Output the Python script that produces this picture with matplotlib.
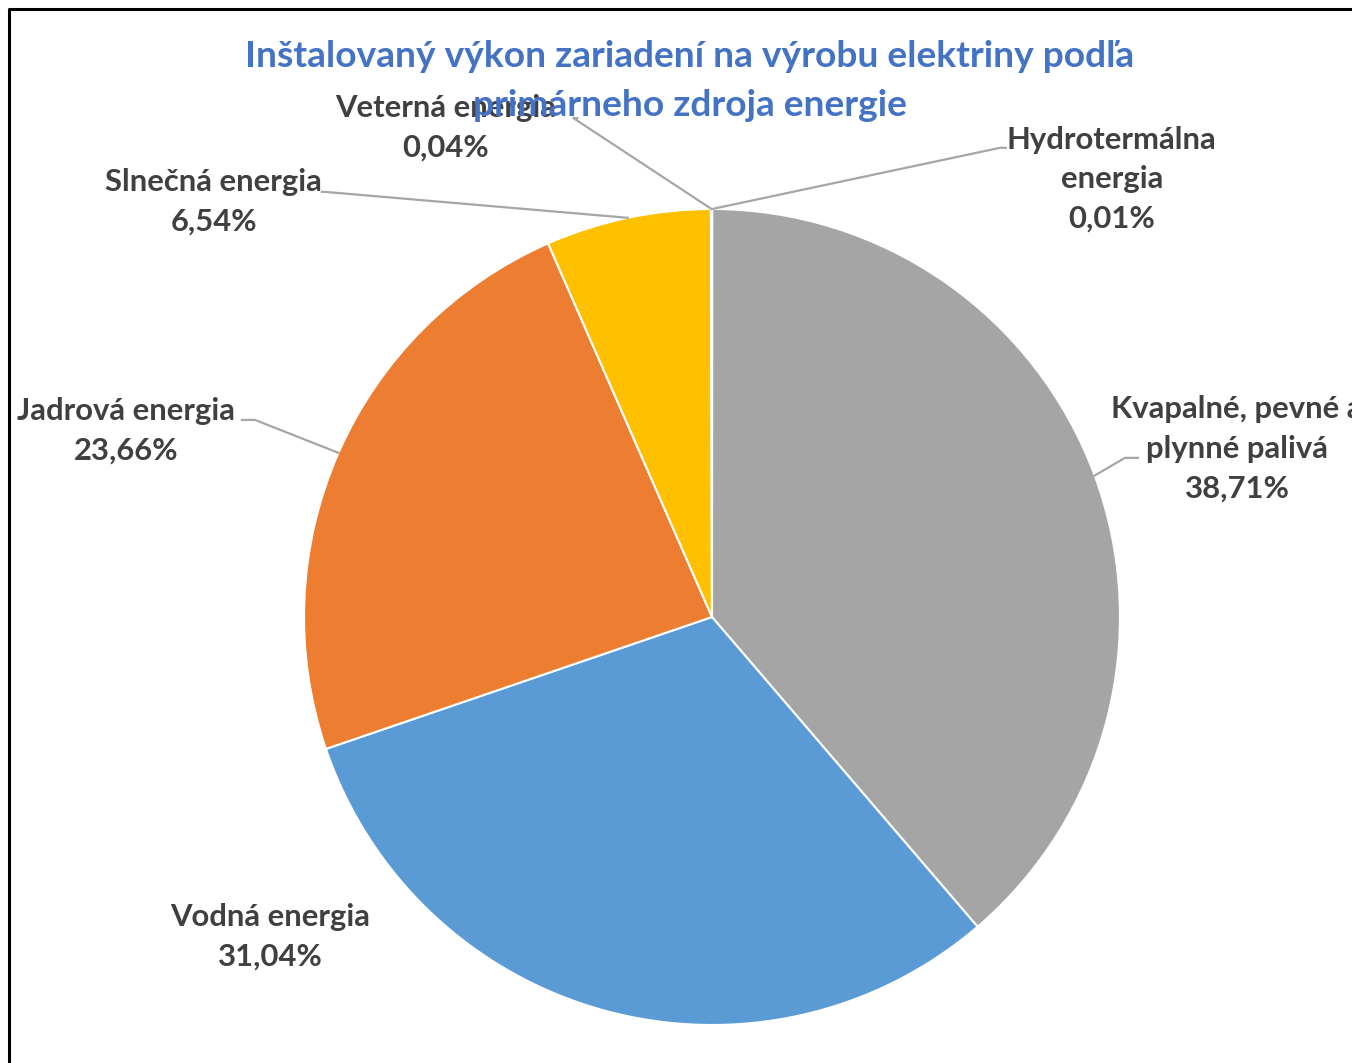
import numpy as np
import matplotlib.pyplot as plt
from matplotlib.lines import Line2D

# data (clockwise from 12 o'clock, as in the source chart)
labels = ["Hydrotermálna\nenergia", "Kvapalné, pevné a\nplynné palivá", "Vodná energia",
          "Jadrová energia", "Slnečná energia", "Veterná energia"]
shares = [0.01, 38.71, 31.04, 23.66, 6.54, 0.04]
colors = ["#4472C4", "#A5A5A5", "#5B9BD5", "#ED7D31", "#FFC000", "#70AD47"]

title = "Inštalovaný výkon zariadení na výrobu elektriny podľa\nprimárneho zdroja energie"

# label placement (text centre, leader elbow, leader end) in pie-radius units
text_pos = [(0.98, 1.073), (1.287, 0.412), (-1.083, -0.784),
            (-1.436, 0.456), (-1.221, 1.017), (-0.652, 1.199)]
elbow = [(0.706, 1.150), (1.012, 0.390), None,
         (-1.120, 0.483), (-0.949, 1.042), (-0.34, 1.223)]
elbow_end = [(0.72, 1.150), (1.044, 0.390), None,
             (-1.152, 0.483), (-0.956, 1.042), (-0.33, 1.223)]

W, H = 1352, 1063
fig = plt.figure(figsize=(W / 100, H / 100), dpi=100)
ax = fig.add_axes([0, 0, 1, 1])

R = 408.0  # pie radius in pixels
cx, cy = 712, 617

wedges, _ = ax.pie(shares, colors=colors, startangle=90, counterclock=False,
                   radius=1, wedgeprops=dict(edgecolor="white", linewidth=1.5))
ax.set_xlim(-cx / R, (W - cx) / R)
ax.set_ylim(-(H - cy) / R, cy / R)
ax.set_aspect("auto")
ax.axis("off")

txt_col = "#404040"
font = "Lato"
for i, w in enumerate(wedges):
    mid = np.deg2rad((w.theta1 + w.theta2) / 2)
    ex, ey = np.cos(mid), np.sin(mid)
    pct = f"{shares[i]:.2f}%".replace(".", ",")
    tx, ty = text_pos[i]
    ax.text(tx, ty, f"{labels[i]}\n{pct}", ha="center", va="center",
            fontsize=22.3, fontweight="bold", color=txt_col, family=font,
            linespacing=1.5, zorder=5)
    if elbow[i] is not None:
        xs = [ex, elbow[i][0], elbow_end[i][0]]
        ys = [ey, elbow[i][1], elbow_end[i][1]]
        ax.add_line(Line2D(xs, ys, color="#A6A6A6", lw=1.6, zorder=4))

fig.text(690 / W, 1 - 81 / H, title, ha="center", va="center", fontsize=26.7,
         fontweight="bold", color="#4472C4", family=font, linespacing=1.56,
         zorder=10)

# chart frame (only left and top edges are inside the crop)
fig.add_artist(Line2D([9 / W, 9 / W, 1], [0, 1 - 9 / H, 1 - 9 / H],
                      transform=fig.transFigure, color="black", lw=2.2))

fig.savefig("out.png", dpi=100, facecolor="white")
